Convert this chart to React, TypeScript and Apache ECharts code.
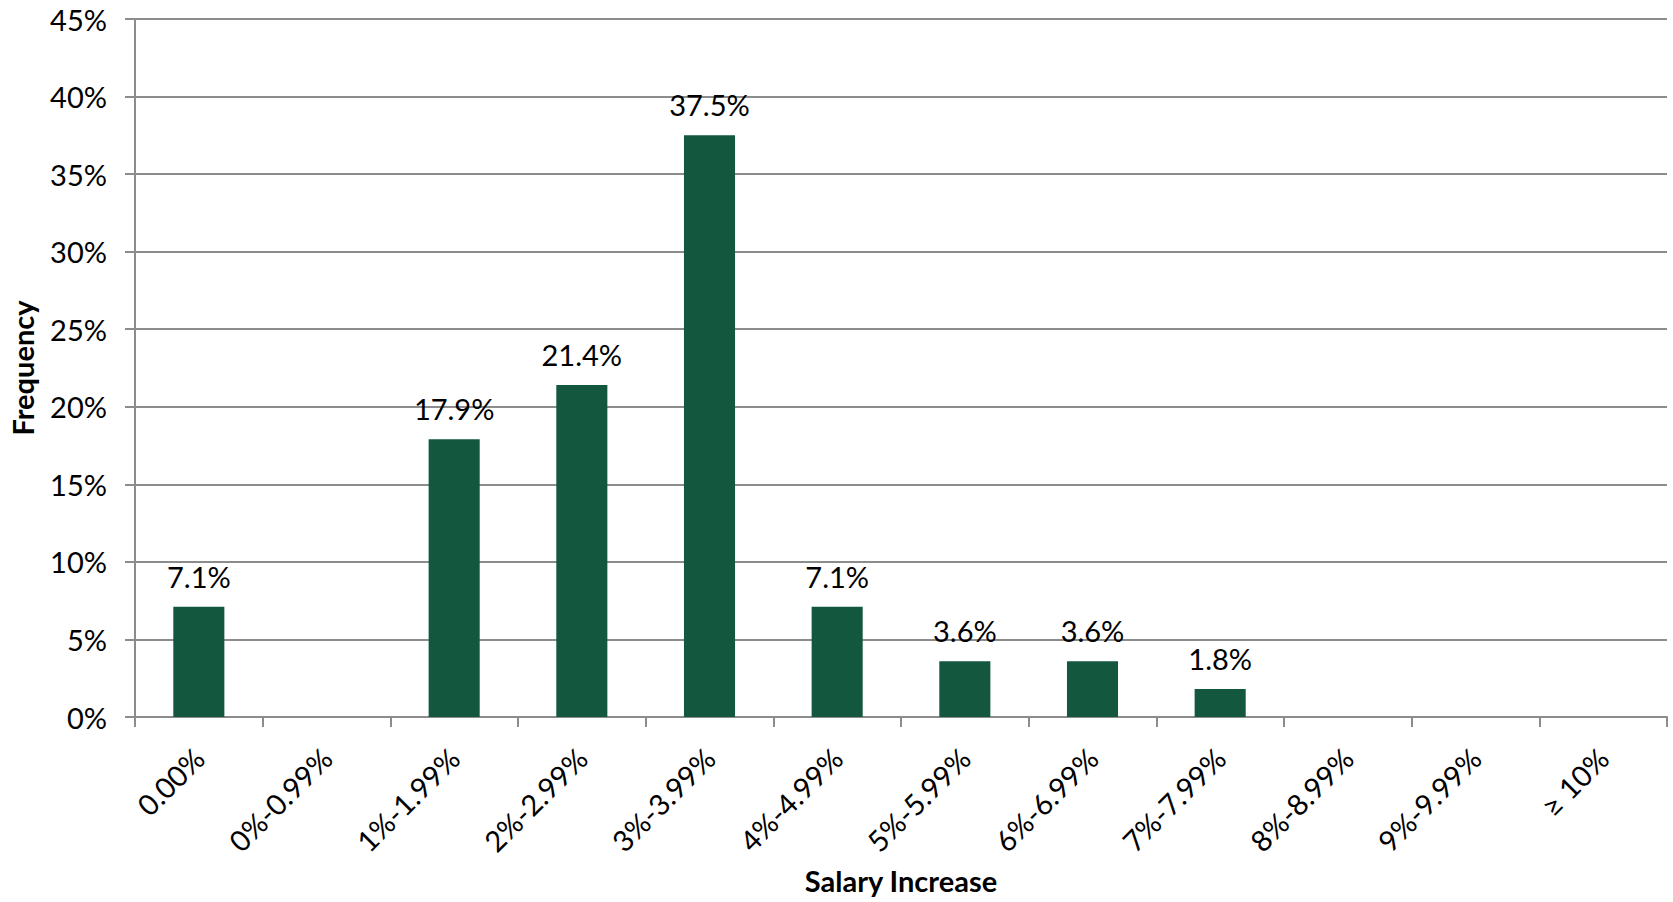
import React, { useEffect, useRef } from "react";
import * as echarts from "echarts";

const categories = ["0.00%", "0%-0.99%", "1%-1.99%", "2%-2.99%", "3%-3.99%", "4%-4.99%", "5%-5.99%", "6%-6.99%", "7%-7.99%", "8%-8.99%", "9%-9.99%", "≥ 10%"];
const frequency = [7.1, 0, 17.9, 21.4, 37.5, 7.1, 3.6, 3.6, 1.8, 0, 0, 0];
const yTicks = { min: 0, max: 45, interval: 5 };

const FONT = "Lato, 'Open Sans', sans-serif";

export default function App() {
  const ref = useRef<HTMLDivElement>(null);
  useEffect(() => {
    const chart = echarts.init(ref.current!, null, { renderer: "svg" });
    chart.setOption({
      animation: false,
      textStyle: { fontFamily: FONT },
      grid: { left: 135, right: 6, top: 19, bottom: 185, containLabel: false, outerBoundsMode: "none" },
      xAxis: {
        type: "category",
        data: categories,
        name: "Salary Increase",
        nameLocation: "middle",
        nameGap: 149,
        nameTextStyle: { fontFamily: FONT, fontSize: 29, fontWeight: "bold", color: "#000" },
        axisLine: { lineStyle: { color: "#8c8c8c", width: 2 } },
        axisTick: { show: true, length: 10, alignWithLabel: false, lineStyle: { color: "#8c8c8c", width: 2 } },
        axisLabel: { rotate: 45, margin: 36, fontSize: 29, color: "#000", fontFamily: FONT, interval: 0 },
      },
      yAxis: {
        type: "value",
        min: yTicks.min,
        max: yTicks.max,
        interval: yTicks.interval,
        name: "Frequency",
        nameLocation: "middle",
        nameGap: 98,
        nameRotate: 90,
        nameTextStyle: { fontFamily: FONT, fontSize: 29, fontWeight: "bold", color: "#000" },
        axisLine: { show: true, lineStyle: { color: "#8c8c8c", width: 2 } },
        axisTick: { show: true, length: 10, lineStyle: { color: "#8c8c8c", width: 2 } },
        splitLine: { lineStyle: { color: "#8c8c8c", width: 2 } },
        axisLabel: { formatter: "{value}%", margin: 28, fontSize: 29, color: "#000", fontFamily: FONT },
      },
      series: [
        {
          type: "bar",
          data: frequency,
          barWidth: "40%",
          itemStyle: { color: "#14573f" },
          label: {
            show: true,
            position: "top",
            distance: 16,
            fontSize: 29,
            color: "#000",
            fontFamily: FONT,
            formatter: (p: any) => (p.value ? p.value.toFixed(1) + "%" : ""),
          },
        },
      ],
    });
    return () => chart.dispose();
  }, []);
  return <div ref={ref} style={{ width: 1673, height: 902, position: "absolute", left: 0, top: 0 }} />;
}
